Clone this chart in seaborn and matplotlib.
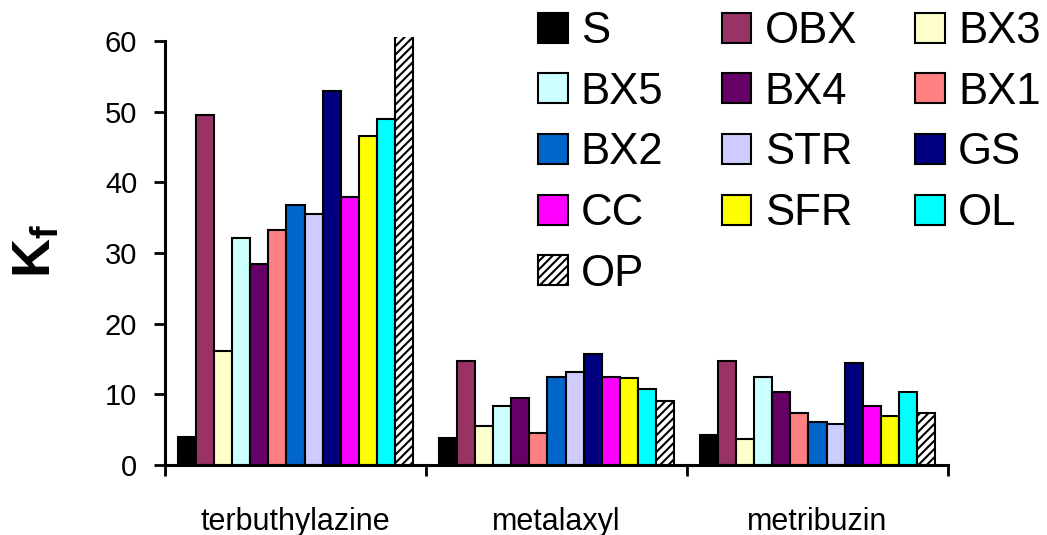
import matplotlib
matplotlib.use("Agg")
import matplotlib.pyplot as plt
from matplotlib.patches import Patch
from matplotlib.ticker import FixedLocator
import seaborn as sns
import pandas as pd

# ---- data ----
pesticides = ["terbuthylazine", "metalaxyl", "metribuzin"]
soils = ["S", "OBX", "BX3", "BX5", "BX4", "BX1", "BX2", "STR", "GS", "CC", "SFR", "OL", "OP"]
terbuthylazine = [4.0, 49.6, 16.1, 32.1, 28.4, 33.3, 36.8, 35.5, 53.0, 37.9, 46.6, 49.0, 62.0]
metalaxyl = [3.8, 14.7, 5.5, 8.3, 9.5, 4.6, 12.5, 13.2, 15.7, 12.5, 12.3, 10.7, 9.0]
metribuzin = [4.3, 14.7, 3.7, 12.5, 10.4, 7.3, 6.1, 5.8, 14.4, 8.3, 7.0, 10.4, 7.4]
colors = ["#000000", "#993366", "#FFFFCC", "#CCFFFF", "#660066", "#FF8080", "#0066CC",
          "#CCCCFF", "#000080", "#FF00FF", "#FFFF00", "#00FFFF", "#FFFFFF"]
yticks = [0, 10, 20, 30, 40, 50, 60]

rows = []
for pest, vals in zip(pesticides, [terbuthylazine, metalaxyl, metribuzin]):
    for s, v in zip(soils, vals):
        rows.append({"pesticide": pest, "soil": s, "Kf": v})
df = pd.DataFrame(rows)

sns.set_style("white")
plt.rcParams["font.family"] = ["Liberation Sans", "DejaVu Sans"]
plt.rcParams["hatch.linewidth"] = 1.5
plt.rcParams["mathtext.fontset"] = "custom"
plt.rcParams["mathtext.bf"] = "Liberation Sans:bold"
plt.rcParams["mathtext.rm"] = "Liberation Sans"
for key in ["text.color", "axes.labelcolor", "xtick.color", "ytick.color", "axes.edgecolor"]:
    plt.rcParams[key] = "black"

fig = plt.figure(figsize=(10.47, 5.35), dpi=100)
ax = fig.add_axes([165 / 1047, 1 - 465 / 535, (948 - 165) / 1047, (465 - 37) / 535])

HATCH = "////"
palette = dict(zip(soils, colors))
sns.barplot(data=df, x="pesticide", y="Kf", hue="soil", order=pesticides, hue_order=soils,
            palette=palette, saturation=1, width=0.9, errorbar=None, edgecolor="black",
            linewidth=1.5, legend=False, ax=ax)

# hatch OP bars
for patch in ax.containers[-1]:
    patch.set_hatch(HATCH)
    patch.set_facecolor("white")

ax.set_xlim(-0.5, 2.5)
ax.set_ylim(0, 60.6)
ax.set_yticks(yticks)
ax.tick_params(axis="y", labelsize=21, length=8, width=2, direction="out", pad=12, left=True)
ax.xaxis.set_minor_locator(FixedLocator([-0.5, 0.5, 1.5, 2.5]))
ax.tick_params(axis="x", which="major", length=0, labelsize=22, pad=30)
ax.tick_params(axis="x", which="minor", length=8, width=2, direction="out", bottom=True)

for side in ["top", "right"]:
    ax.spines[side].set_visible(False)
for side in ["left", "bottom"]:
    ax.spines[side].set_linewidth(2.2)
    ax.spines[side].set_color("black")
ax.spines["left"].set_bounds(0, 60)

ax.set_xlabel("")
ax.set_ylabel(r"$\mathbf{K}_{\mathbf{f}}$", fontsize=39, rotation=90)
ax.yaxis.set_label_coords(-104 / 783, 0.5)

# legend (row-major display with 3 columns)
handles = {}
for s, c in zip(soils, colors):
    h = Patch(facecolor=c, edgecolor="black", linewidth=1.5, hatch=HATCH if s == "OP" else None)
    handles[s] = h
order = ["S", "BX5", "BX2", "CC", "OP", "OBX", "BX4", "STR", "SFR", "BX3", "BX1", "GS", "OL"]
leg = fig.legend([handles[s] for s in order], order, loc="upper left",
                 bbox_to_anchor=(538 / 1047, 1 - 11 / 535), ncol=3, frameon=False,
                 fontsize=31.5, handlelength=0.68, handleheight=0.68, handletextpad=0.3,
                 columnspacing=1.33, labelspacing=0.45, borderpad=0, borderaxespad=0)

fig.savefig("out.png", dpi=100)
